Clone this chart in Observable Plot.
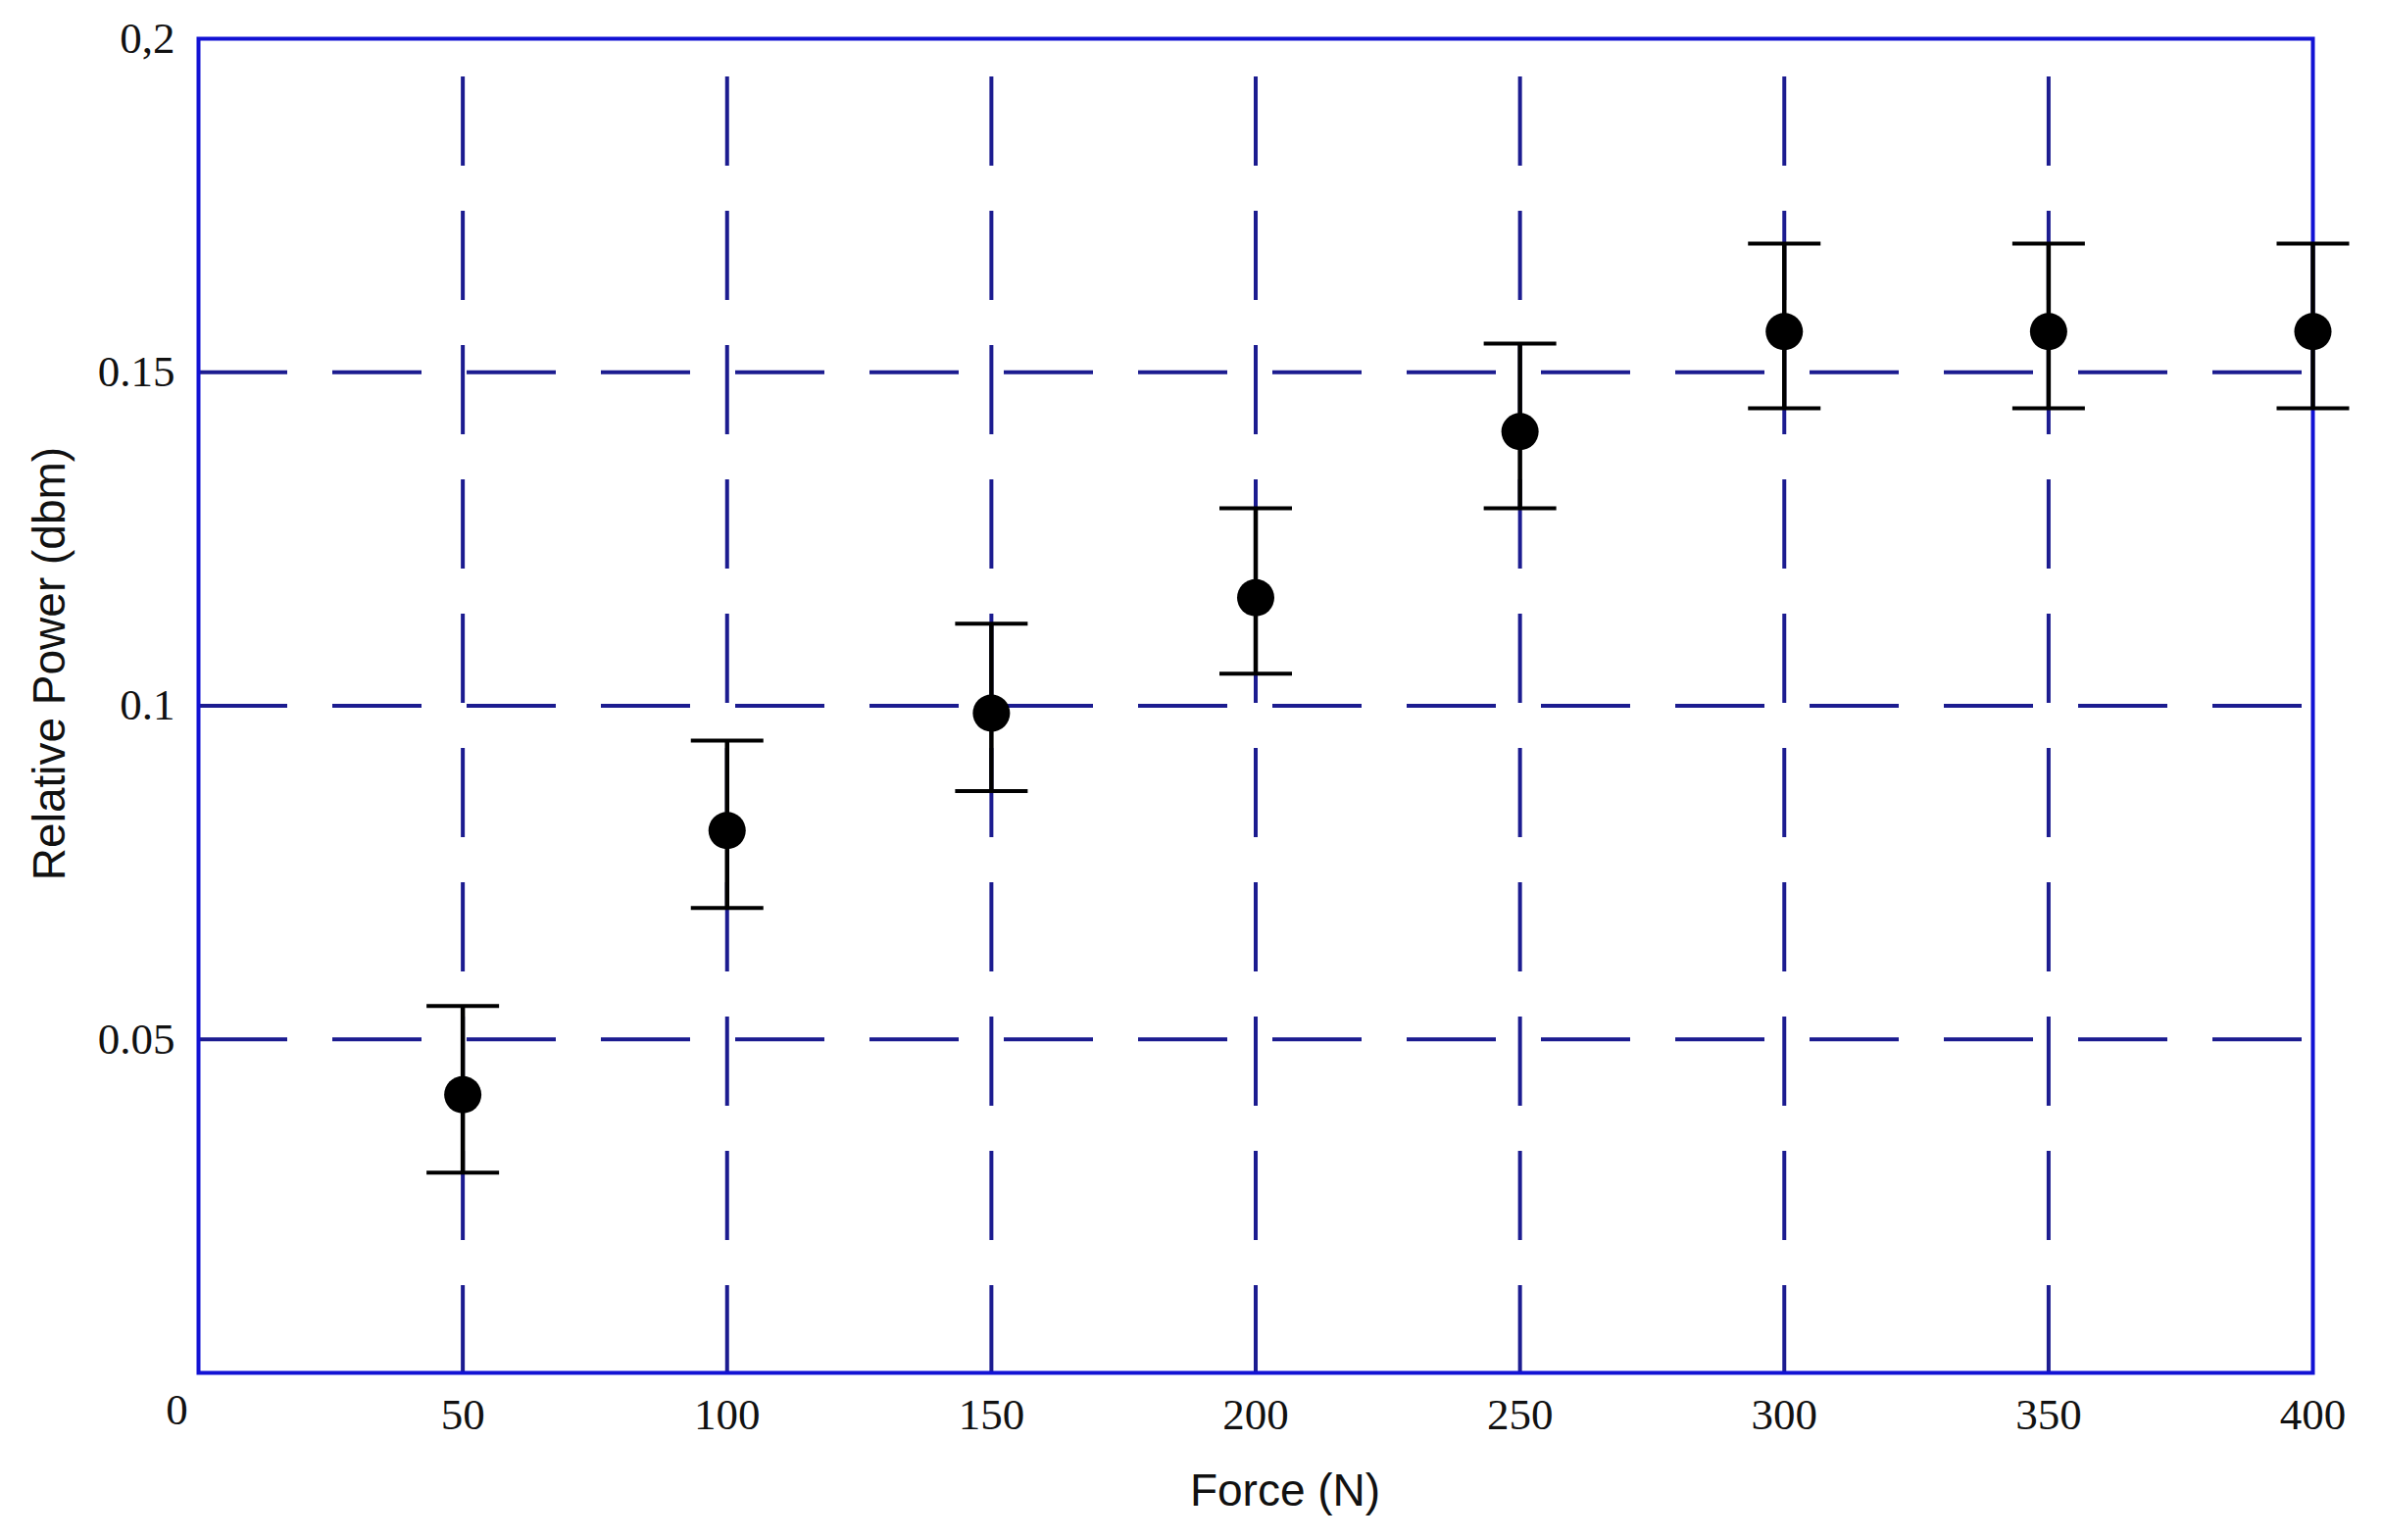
<!DOCTYPE html>
<html>
<head>
<meta charset="utf-8">
<script src="https://cdn.jsdelivr.net/npm/d3@7"></script>
<script src="https://cdn.jsdelivr.net/npm/@observablehq/plot@0.6"></script>
<style>
  html, body { margin: 0; padding: 0; background: #ffffff; }
  #chart { width: 2430px; height: 1571px; }
</style>
</head>
<body>
<div id="chart"></div>
<script>
// ---- data ----
const forces     = [50, 100, 150, 200, 250, 300, 350, 400];
const power      = [0.0417, 0.0813, 0.0989, 0.1162, 0.1411, 0.1561, 0.1561, 0.1561];
const powerLow   = [0.0300, 0.0697, 0.0872, 0.1048, 0.1296, 0.1446, 0.1446, 0.1446];
const powerHigh  = [0.0550, 0.0948, 0.1123, 0.1296, 0.1543, 0.1693, 0.1693, 0.1693];

const xTicks      = [50, 100, 150, 200, 250, 300, 350, 400];
const xTickLabels = ["50", "100", "150", "200", "250", "300", "350", "400"];
const xGridTicks  = [50, 100, 150, 200, 250, 300, 350];
const originLabel = ["0"];
const yTicks      = [0.05, 0.1, 0.15, 0.2];
const yTickLabels = ["0.05", "0.1", "0.15", "0,2"];
const yGridTicks  = [0.05, 0.1, 0.15];
const xTitle = "Force (N)";
const yTitle = "Relative Power (dbm)";

const rows = forces.map((f, i) => ({force: f, p: power[i], lo: powerLow[i], hi: powerHigh[i]}));

// horizontal cap symbol for the error bars
const capSymbol = {
  draw(context, size) {
    const w = Math.sqrt(size / Math.PI);
    context.moveTo(-w, 0);
    context.lineTo(w, 0);
  }
};

const gridColor = "#1c1c90";
const frameColor = "#1212d4";
const sans = "Liberation Sans, Arial, sans-serif";
const serif = "Liberation Serif, Times New Roman, serif";

const chart = Plot.plot({
  width: 2430,
  height: 1571,
  marginLeft: 202,
  marginRight: 71,
  marginTop: 39,
  marginBottom: 171,
  style: {fontFamily: serif, fontSize: "45px", color: "#111", background: "#ffffff"},
  x: {domain: [0, 400]},
  y: {domain: [0, 0.2]},
  marks: [
    Plot.gridY(yGridTicks, {stroke: gridColor, strokeOpacity: 1, strokeWidth: 4, strokeDasharray: "91,46"}),
    Plot.gridX(xGridTicks, {stroke: gridColor, strokeOpacity: 1, strokeWidth: 4, strokeDasharray: "91,46", strokeDashoffset: 98}),
    Plot.frame({stroke: frameColor, strokeWidth: 4}),
    Plot.axisX(xTicks, {tickSize: 0, tickPadding: 26, label: null,
      tickFormat: d => xTickLabels[xTicks.indexOf(d)], fontSize: 45, fontFamily: serif, fill: "#111"}),
    Plot.axisY(yTicks, {tickSize: 0, tickPadding: 24, label: null,
      tickFormat: d => yTickLabels[yTicks.indexOf(d)], fontSize: 45, fontFamily: serif, fill: "#111"}),
    Plot.text(originLabel, {x: () => 0, frameAnchor: "bottom", dx: -22, dy: 52, fontSize: 45, fontFamily: serif, fill: "#111"}),
    Plot.text([xTitle], {frameAnchor: "bottom", dx: 30, dy: 135, fontSize: 46, fontFamily: sans, fill: "#111"}),
    Plot.text([yTitle], {frameAnchor: "left", textAnchor: "middle", dx: -151, dy: -43, rotate: -90, fontSize: 46, fontFamily: sans, fill: "#111"}),
    Plot.ruleX(rows, {x: "force", y1: "lo", y2: "hi", stroke: "#000", strokeWidth: 4.5}),
    Plot.dot(rows, {x: "force", y: "lo", symbol: capSymbol, r: 37, stroke: "#000", strokeWidth: 4, fill: "none"}),
    Plot.dot(rows, {x: "force", y: "hi", symbol: capSymbol, r: 37, stroke: "#000", strokeWidth: 4, fill: "none"}),
    Plot.dot(rows, {x: "force", y: "p", r: 19, fill: "#000", stroke: "none"})
  ]
});

document.getElementById("chart").appendChild(chart);
</script>
</body>
</html>
